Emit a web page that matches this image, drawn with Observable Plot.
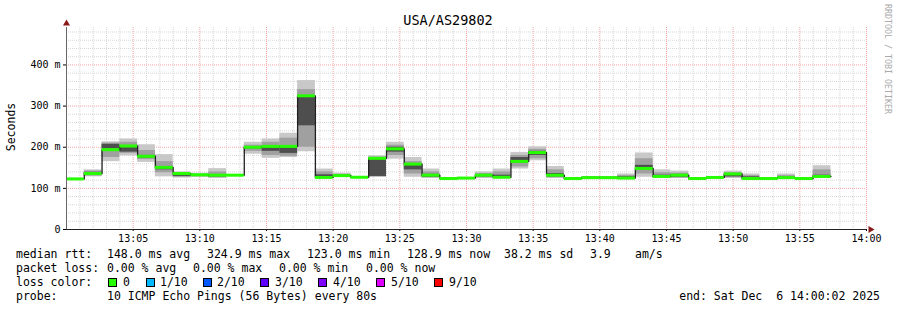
<!DOCTYPE html>
<html><head><meta charset="utf-8">
<script src="https://cdn.jsdelivr.net/npm/d3@7"></script>
<script src="https://cdn.jsdelivr.net/npm/@observablehq/plot@0.6"></script>
<style>
body{margin:0;background:#fff;}
#wrap{position:relative;width:897px;height:310px;overflow:hidden;font-family:"DejaVu Sans Mono",monospace;color:#000;background:#fff;}
.t{position:absolute;white-space:pre;font-size:11.5px;line-height:12px;}
.box{position:absolute;width:7px;height:7px;border:1px solid #000;}
#plot{position:absolute;left:0;top:20px;}
</style></head><body><div id="wrap"><div id="plot"></div></div>
<script>
// ---- data (SmokePing steps, 80 s each) ----
const stepStarts = ["13:00:00","13:01:20","13:02:40","13:04:00","13:05:20","13:06:40","13:08:00","13:09:20","13:10:40","13:12:00",
  "13:13:20","13:14:40","13:16:00","13:17:20","13:18:40","13:20:00","13:21:20","13:22:40","13:24:00","13:25:20",
  "13:26:40","13:28:00","13:29:20","13:30:40","13:32:00","13:33:20","13:34:40","13:36:00","13:37:20","13:38:40",
  "13:40:00","13:41:20","13:42:40","13:44:00","13:45:20","13:46:40","13:48:00","13:49:20","13:50:40","13:52:00",
  "13:53:20","13:54:40","13:56:00"];
const lastStepEnd = "13:57:20";
const medianRtt = [123,136,194,203,178,151,136,133,132,132,
  200,202,202,325,126.5,131,127,173,196,159,
  132,124,125,132,127,165.5,187,132,124,126,
  126,125,148.5,129,132,124,126.5,135,124,124,
  126,124,128.9];
const smokeMin = [122,128,165,179,163,128,125,127,124,131,
  183,173,175,189,125,127,126,127,171,127,
  124,123,124,124,124,147,167,124,123,125,
  124,125,127,124,124,123,125,124,124,123,
  124,123,124];
const smokeMax = [124,145,213,220,206,182,140,137,148,133,
  212,220,234,362,147,137,128,179,212,175,
  147,125,126,140,147,187,201,153,125,128,
  128,135,186,145,142,125,128,142,135,125,
  135,125,155];
const midLo = [122,130,175,185,170,138,127,128,126,131,
  190,180,178,200,126,128,126,128,180,135,
  126,123,124,126,126,152,172,126,123,125,
  125,125,135,125,125,123,126,126,124,123,
  124,123,125];
const midHi = [124,142,210,212,192,165,136,134,140,133,
  205,212,222,340,140,134,128,176,205,165,
  140,125,126,136,140,180,195,145,125,128,
  127,131,172,138,137,125,127,138,131,125,
  131,125,145];
const coreLo = [123,133,196,188,174,145,129,130,128,132,
  196,190,185,252,127,129,127,129,188,145,
  127,124,125,128,127,162,180,128,124,126,
  125,126,148,126,127,124,126,128,125,124,
  125,124,126];
const coreHi = [123,139,207,199,180,152,133,132,133,132,
  200,200,200,325,133,132,127,171,200,158,
  134,124,125,133,132,175,190,136,124,127,
  127,128,156,132,133,124,127,134,128,124,
  127,124,132];

const xTickVals = [5,10,15,20,25,30,35,40,45,50,55,60];
const xTickLabels = ["13:05","13:10","13:15","13:20","13:25","13:30","13:35","13:40","13:45","13:50","13:55","14:00"];
const yTickVals = [0,100,200,300,400];
const yTickLabels = ["0","100 m","200 m","300 m","400 m"];

const lossColors = ["#26ff00","#00b8ff","#0059ff","#5e00ff","#7e00ff","#dd00ff","#ff0000"];
const lossLabels = ["0","1/10","2/10","3/10","4/10","5/10","9/10"];

// ---- build table ----
const toMin = s => { const [h,m,sec] = s.split(":").map(Number); return (h-13)*60 + m + sec/60; };
const steps = stepStarts.map((s,i) => ({
  x1: toMin(s),
  x2: toMin(i+1 < stepStarts.length ? stepStarts[i+1] : lastStepEnd),
  med: medianRtt[i], lo: smokeMin[i], hi: smokeMax[i],
  ml: midLo[i], mh: midHi[i], cl: coreLo[i], ch: coreHi[i]
}));
const linePts = steps.map(d => ({x: d.x1, y: d.med})).concat([{x: steps[steps.length-1].x2, y: steps[steps.length-1].med}]);

const xMax = 60, yMax = 491;
const minorX = d3.range(1, 60).filter(v => v % 5 !== 0);
const majorX = d3.range(5, 61, 5);
const minorY = d3.range(20, yMax, 20).filter(v => v % 100 !== 0);
const majorY = [100,200,300,400];

const chart = Plot.plot({
  width: 897, height: 230,
  marginLeft: 66, marginRight: 31, marginTop: 7, marginBottom: 21,
  x: {domain: [0, xMax]},
  y: {domain: [0, yMax]},
  style: {fontFamily: "DejaVu Sans Mono", fontSize: "10px", background: "transparent", overflow: "visible", color: "#000"},
  marks: [
    Plot.ruleX(minorX, {stroke: "#d6d6d6", strokeDasharray: "1,1"}),
    Plot.ruleY(minorY, {stroke: "#d6d6d6", strokeDasharray: "1,1"}),
    Plot.ruleX(majorX, {stroke: "#f4a4a4", strokeDasharray: "1,1"}),
    Plot.ruleY(majorY, {stroke: "#f4a4a4", strokeDasharray: "1,1"}),
    Plot.rect(steps, {x1: "x1", x2: "x2", y1: "lo", y2: "hi", fill: "#c8c8c8"}),
    Plot.rect(steps, {x1: "x1", x2: "x2", y1: "ml", y2: "mh", fill: "#a0a0a0"}),
    Plot.rect(steps, {x1: "x1", x2: "x2", y1: "cl", y2: "ch", fill: "#4e4e4e"}),
    Plot.line(linePts, {x: "x", y: "y", curve: "step-after", stroke: "#202020", strokeWidth: 1.3}),
    Plot.ruleY(steps, {x1: "x1", x2: "x2", y: "med", stroke: lossColors[0], strokeWidth: 3}),
    Plot.axisX({ticks: xTickVals, tickFormat: d => xTickLabels[xTickVals.indexOf(d)], tickSize: 2, tickPadding: 3, label: null, fontSize: 10}),
    Plot.axisY({ticks: yTickVals, tickFormat: d => yTickLabels[yTickVals.indexOf(d)], tickSize: 3, tickPadding: 3, label: null, fontSize: 10}),
    Plot.ruleY([0], {x1: 0, x2: xMax, stroke: "#222"}),
    Plot.ruleX([0], {y1: 0, y2: yMax, stroke: "#666"}),
    Plot.ruleX([0], {y1: yMax, y2: yMax, stroke: "#666", dy: -4}),
    Plot.dot([0], {x: xMax, y: 0, dx: 4, symbol: "triangle", r: 2.6, fill: "#8b1a1a", stroke: "none", rotate: 90}),
    Plot.dot([0], {x: 0, y: yMax, dy: -4, symbol: "triangle", r: 2.6, fill: "#8b1a1a", stroke: "none"})
  ]
});
document.getElementById("plot").appendChild(chart);

// ---- text ----
const wrap = document.getElementById("wrap");
function addText(txt, left, top, extra) {
  const d = document.createElement("div");
  d.className = "t"; d.textContent = txt;
  d.style.left = left + "px"; d.style.top = top + "px";
  if (extra) Object.assign(d.style, extra);
  wrap.appendChild(d);
  return d;
}
addText("USA/AS29802", 448, 13, {fontSize: "13.5px", transform: "translateX(-50%)", lineHeight: "14px"});
addText("Seconds", 11, 127, {fontSize: "11.5px", transform: "translate(-50%,-50%) rotate(-90deg)"});
addText("RRDTOOL / TOBI OETIKER", 892, 4, {fontSize: "8.3px", color: "#aaaaaa", transformOrigin: "0 0", transform: "rotate(90deg)", lineHeight: "9px"});

const rowTop = [248, 262, 276, 290];
const row1 = [["median rtt:",16],["148.0 ms avg",107],["324.9 ms max",207],["123.0 ms min",307],["128.9 ms now",407],["38.2 ms sd",504],["3.9",590],["am/s",635]];
const row2 = [["packet loss:",16],["0.00 % avg",107],["0.00 % max",193],["0.00 % min",279],["0.00 % now",366]];
row1.forEach(([t,x]) => addText(t, x, rowTop[0]));
row2.forEach(([t,x]) => addText(t, x, rowTop[1]));
addText("loss color:", 16, rowTop[2]);
const boxX = [108,146,203,260,318,376,434];
const labX = [123,160,217,275,333,391,449];
lossColors.forEach((c,i) => {
  const b = document.createElement("div");
  b.className = "box"; b.style.background = c;
  b.style.left = boxX[i] + "px"; b.style.top = (rowTop[2] + 2) + "px";
  wrap.appendChild(b);
  addText(lossLabels[i], labX[i], rowTop[2]);
});
addText("probe:", 16, rowTop[3]);
addText("10 ICMP Echo Pings (56 Bytes) every 80s", 107, rowTop[3]);
addText("end: Sat Dec  6 14:00:02 2025", 880, rowTop[3], {transform: "translateX(-100%)"});
</script></body></html>
